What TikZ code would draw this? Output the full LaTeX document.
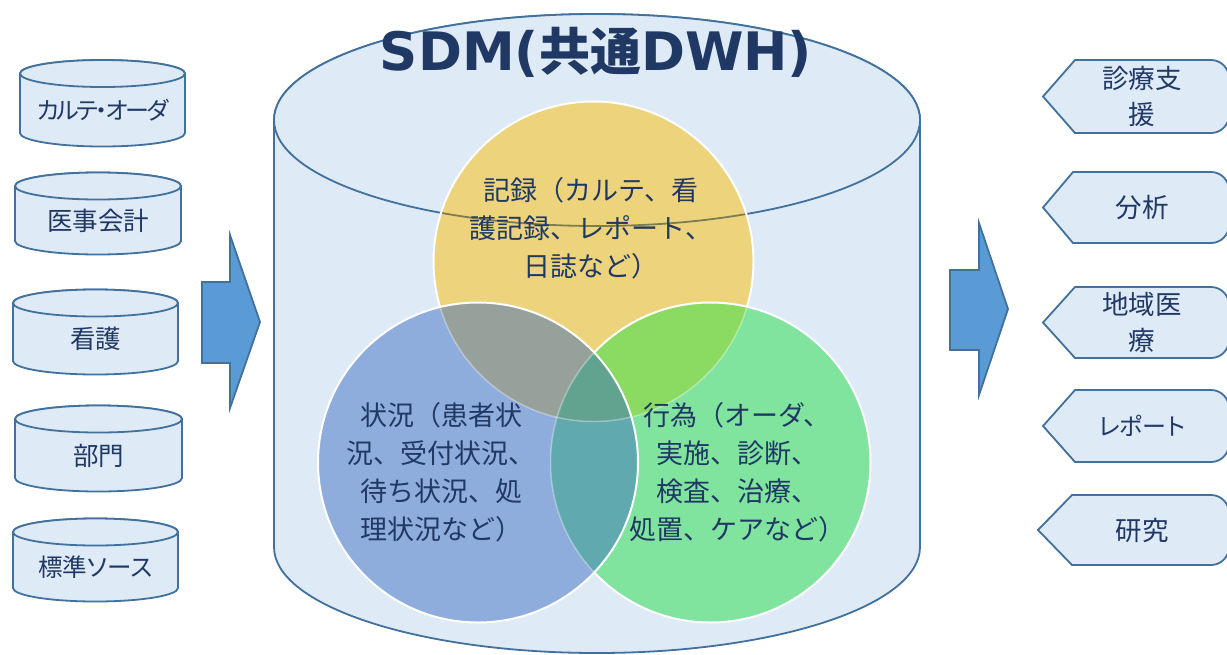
\documentclass[tikz,border=0pt]{standalone}
\usepackage{fontspec}
\newfontfamily\jpm{Noto Sans CJK JP}
\newfontfamily\jpp[RawFeature=+palt]{Noto Sans CJK JP}
\newfontfamily\jpk[RawFeature=+palt,LetterSpace=-10]{Noto Sans CJK JP}
\newfontfamily\dv{DejaVu Sans}
\definecolor{bgfill}{RGB}{222,234,246}
\definecolor{edge}{RGB}{65,113,156}
\definecolor{navy}{RGB}{32,56,100}
\definecolor{arrowfill}{RGB}{91,155,213}
\definecolor{cy}{RGB}{237,212,124}
\definecolor{cb}{RGB}{142,173,220}
\definecolor{cg}{RGB}{128,228,159}
\definecolor{cyb}{RGB}{150,161,155}
\definecolor{cyg}{RGB}{139,218,97}
\definecolor{cbg}{RGB}{96,169,174}
\definecolor{cybg}{RGB}{98,163,143}
\definecolor{oliveline}{RGB}{125,125,82}
\tikzset{
 cylbody/.style={fill=bgfill,draw=edge,line width=1.8pt},
 smalltxt/.style={font=\jpp\fontsize{25.5}{36}\selectfont,text=navy,align=center},
 tagtxt/.style={font=\jpp\fontsize{26.5}{36}\selectfont,text=navy,align=center},
 venntxt/.style={font=\jpm\fontsize{27}{38}\selectfont,text=navy,align=center},
 blockarrow/.style={fill=arrowfill,draw=edge,line width=1.8pt,line join=miter},
 outtagstyle/.style={fill=bgfill,draw=edge,line width=1.8pt},
 wborder/.style={draw=white,line width=2pt},
 fborder/.style={draw=white,draw opacity=0.35,line width=1.5pt},
}
\newcommand{\dbcyl}[7][]{%
 \pgfmathsetmacro\cx{(#2+#3)/2}%
 \pgfmathsetmacro\rx{(#3-#2)/2}%
 \pgfmathsetmacro\ty{(#4+#5)/2+7}%
 \path[cylbody] (#2,#4) -- (#2,#5) arc[start angle=180,end angle=0,x radius=\rx,y radius=13.5] -- (#3,#4) arc[start angle=0,end angle=-180,x radius=\rx,y radius=13.5] -- cycle;
 \draw[cylbody] (\cx,#4) ellipse[x radius=\rx,y radius=13.5];
 \node[smalltxt,#1] (#6) at (\cx,\ty) {#7};
}
\newcommand{\outtag}[7][]{%
 \pgfmathsetmacro\my{(#2+#3)/2}%
 \pgfmathsetmacro\bq{#3-18}%
 \path[outtagstyle] (#4,\my) -- (#5,#2) -- (1211,#2) arc[start angle=-90,end angle=0,radius=18] -- (1229,\bq) arc[start angle=0,end angle=90,radius=18] -- (#5,#3) -- cycle;
 \node[tagtxt,#1] (#6) at (1142,\my) {#7};
}
\begin{document}
\begin{tikzpicture}[x=1pt,y=-1pt]
\useasboundingbox (0,0) rectangle (1227,654);
\fill[white] (0,0) rectangle (1227,654);
% big cylinder
\path[cylbody] (274,120) -- (274,547) arc[start angle=180,end angle=0,x radius=323,y radius=106] -- (920,120) arc[start angle=0,end angle=-180,x radius=323,y radius=106] -- cycle;
\draw[cylbody] (597,120) ellipse[x radius=323,y radius=106];
% venn
\coordinate (cY) at (593.5,261.5);
\coordinate (cB) at (478,462.5);
\coordinate (cG) at (710.5,462.5);
\fill[cy] (cY) circle[radius=160];
\begin{scope}
 \clip (cY) circle[radius=161];
 \draw[oliveline,line width=1.8pt] (597,120) ellipse[x radius=323,y radius=106];
\end{scope}
\draw[wborder] (cY) circle[radius=160];
% green
\fill[cg] (cG) circle[radius=160];
\begin{scope}
 \clip (cG) circle[radius=160];
 \fill[cyg] (cY) circle[radius=160];
 \draw[fborder] (cY) circle[radius=160];
\end{scope}
\draw[wborder] (cG) circle[radius=160];
% blue
\fill[cb] (cB) circle[radius=160];
\begin{scope}
 \clip (cB) circle[radius=160];
 \fill[cyb] (cY) circle[radius=160];
 \fill[cbg] (cG) circle[radius=160];
 \begin{scope}
  \clip (cY) circle[radius=160];
  \fill[cybg] (cG) circle[radius=160];
 \end{scope}
 \draw[fborder] (cY) circle[radius=160];
 \draw[fborder] (cG) circle[radius=160];
\end{scope}
\draw[wborder] (cB) circle[radius=160];
% venn texts
\node[venntxt] (rec) at (591,228) {記録（カルテ、看\\護記録、レポート、\\日誌など）};
\node[venntxt] (sit) at (441,472.5) {状況（患者状\\況、受付状況、\\待ち状況、処\\理状況など）};
\node[venntxt] (act) at (737,472.5) {行為（オーダ、\\実施、診断、\\検査、治療、\\処置、ケアなど）};
% title
\node[anchor=base,text=navy,inner sep=0pt] (title) at (596,70) {{\dv\bfseries\fontsize{53}{53}\selectfont SDM(}{\jpm\bfseries\fontsize{51}{51}\selectfont 共通}{\dv\bfseries\fontsize{53}{53}\selectfont DWH)}};
% source cylinders
\dbcyl[font=\jpk\fontsize{24}{36}\selectfont]{20}{185}{73.5}{133}{s1}{カルテ・オーダ}
\dbcyl{15}{181}{186}{241}{s2}{医事会計}
\dbcyl{13}{178}{303}{361}{s3}{看護}
\dbcyl{15}{182}{419}{478}{s4}{部門}
\dbcyl[font=\jpp\fontsize{24.5}{36}\selectfont]{13}{178}{532}{588}{s5}{標準ソース}
% block arrows
\path[blockarrow] (202,282) -- (230,282) -- (230,235) -- (260,322) -- (230,408) -- (230,363) -- (202,363) -- cycle;
\path[blockarrow] (950,270) -- (979,270) -- (979,223) -- (1008,309) -- (979,395) -- (979,350) -- (950,350) -- cycle;
% output tags
\outtag{60}{133}{1043}{1075}{o1}{診療支\\援}
\outtag{172}{243}{1043}{1073}{o2}{分析}
\outtag{287}{358}{1043}{1075}{o3}{地域医\\療}
\outtag[font=\jpp\fontsize{24}{36}\selectfont]{390}{462}{1043}{1075}{o4}{レポート}
\outtag{495}{565}{1038}{1072}{o5}{研究}
\end{tikzpicture}
\end{document}
